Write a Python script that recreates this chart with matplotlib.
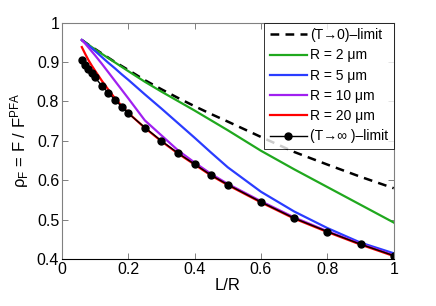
import matplotlib
matplotlib.use('Agg')
import matplotlib.pyplot as plt

plt.rcParams['font.family'] = ['Liberation Sans', 'DejaVu Sans']
plt.rcParams['mathtext.fontset'] = 'custom'
plt.rcParams['mathtext.rm'] = 'Liberation Sans'
plt.rcParams['mathtext.it'] = 'Liberation Sans:italic'

# L/R grid
lr = [0.06, 0.07, 0.08, 0.09, 0.10, 0.12, 0.14, 0.16, 0.18, 0.20, 0.25,
      0.30, 0.35, 0.40, 0.45, 0.50, 0.60, 0.70, 0.80, 0.90, 1.00]

t_zero = [0.956, 0.950, 0.944, 0.938, 0.933, 0.922, 0.911, 0.900, 0.890, 0.880, 0.854,
          0.831, 0.809, 0.788, 0.768, 0.749, 0.710, 0.672, 0.640, 0.609, 0.580]
r2 = [0.956, 0.950, 0.944, 0.938, 0.932, 0.921, 0.910, 0.899, 0.888, 0.877, 0.850,
      0.825, 0.801, 0.777, 0.752, 0.727, 0.675, 0.628, 0.583, 0.538, 0.493]
r5 = [0.956, 0.949, 0.942, 0.935, 0.928, 0.913, 0.898, 0.884, 0.869, 0.855, 0.818,
      0.782, 0.745, 0.708, 0.670, 0.633, 0.571, 0.521, 0.479, 0.442, 0.415]
r10 = [0.956, 0.947, 0.937, 0.927, 0.917, 0.896, 0.874, 0.852, 0.830, 0.808, 0.752,
       0.714, 0.676, 0.645, 0.616, 0.591, 0.547, 0.506, 0.471, 0.439, 0.410]
r20 = [0.938, 0.921, 0.905, 0.891, 0.878, 0.853, 0.830, 0.808, 0.789, 0.771, 0.733,
       0.699, 0.668, 0.640, 0.612, 0.588, 0.544, 0.503, 0.469, 0.437, 0.408]
t_inf = [0.904, 0.893, 0.882, 0.872, 0.861, 0.840, 0.822, 0.804, 0.787, 0.770, 0.734,
         0.700, 0.669, 0.641, 0.613, 0.589, 0.545, 0.504, 0.470, 0.438, 0.409]

xticks = [0, 0.2, 0.4, 0.6, 0.8, 1]
xticklabels = ['0', '0.2', '0.4', '0.6', '0.8', '1']
yticks = [0.4, 0.5, 0.6, 0.7, 0.8, 0.9, 1]
yticklabels = ['0.4', '0.5', '0.6', '0.7', '0.8', '0.9', '1']

fig = plt.figure(figsize=(4.36, 3.06), dpi=100)
ax = fig.add_axes([0.142, 0.153, 0.761, 0.773])

ax.plot(lr, t_zero, color='black', linestyle=(0, (3.5, 2.5)), linewidth=1.8, label='(T→0)–limit')
ax.plot(lr, r2, color='#20a81e', linewidth=1.6, label='R = 2 μm')
ax.plot(lr, r5, color='#2a3cff', linewidth=1.6, label='R = 5 μm')
ax.plot(lr, r10, color='#a020f0', linewidth=1.6, label='R = 10 μm')
ax.plot(lr, r20, color='#ff0000', linewidth=1.6, label='R = 20 μm')
ax.plot(lr, t_inf, color='black', linewidth=1.0, marker='o', markersize=5,
        label='(T→∞ )–limit')

ax.set_xlim(0, 1)
ax.set_ylim(0.4, 1)
ax.set_xticks(xticks)
ax.set_xticklabels(xticklabels)
ax.set_yticks(yticks)
ax.set_yticklabels(yticklabels)
ax.tick_params(direction='in', length=4, width=0.7, color='#808080', labelsize=11.5,
               top=True, right=True, pad=2)

for side in ['left', 'top', 'right']:
    ax.spines[side].set_color('#808080')
    ax.spines[side].set_linewidth(0.8)
ax.spines['bottom'].set_color('black')
ax.spines['bottom'].set_linewidth(0.8)

ax.set_xlabel('L/R', fontsize=12, labelpad=1)
ax.set_ylabel(r'ρ$_{\rm F}$ = F / F$^{\rm PFA}$', fontsize=12, labelpad=4)

leg = ax.legend(loc='upper right', fontsize=10, frameon=True, fancybox=False,
                handlelength=2.7, handletextpad=0.2, labelspacing=0.45,
                borderaxespad=0, borderpad=0.4)
leg.get_frame().set_edgecolor('black')
leg.get_frame().set_linewidth(0.7)

fig.savefig('out.png', dpi=100)
